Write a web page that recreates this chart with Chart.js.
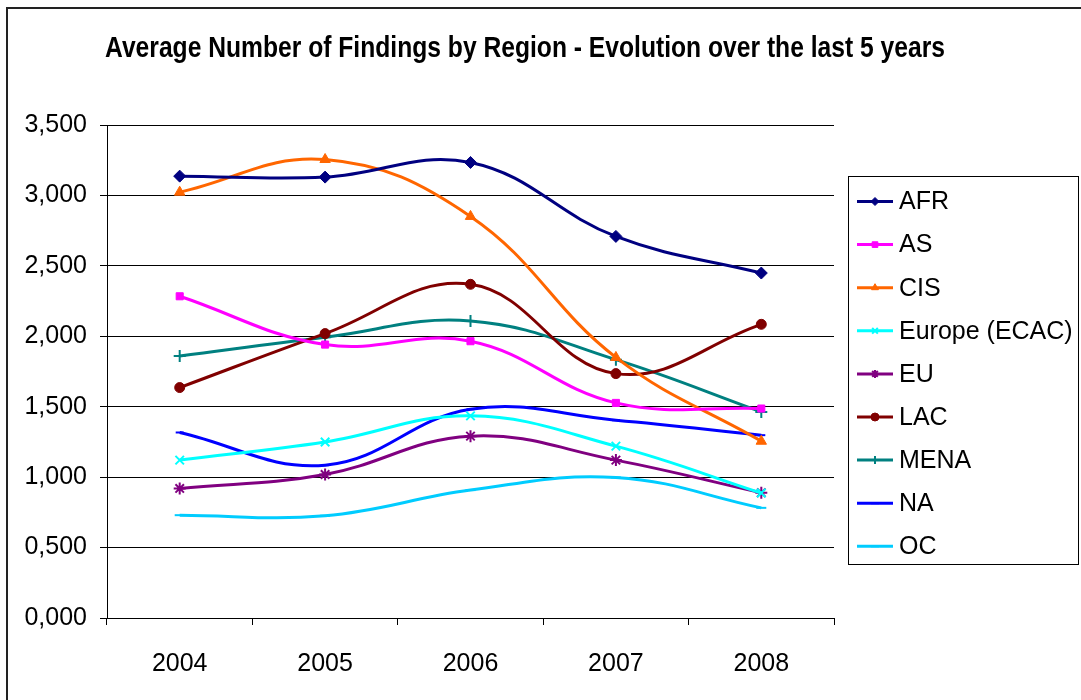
<!DOCTYPE html>
<html>
<head>
<meta charset="utf-8">
<script src="https://cdn.jsdelivr.net/npm/chart.js@4/dist/chart.umd.min.js"></script>
<style>
  html, body { margin: 0; padding: 0; background: #fff; }
  #wrap { width: 1081px; height: 700px; position: relative; }
</style>
</head>
<body>
<div id="wrap"><canvas id="findingsChart" width="1081" height="700"></canvas></div>
<script>
// values (axis shows 0,000 .. 3,500)
const years = ['2004', '2005', '2006', '2007', '2008'];

const afr    = [3.137, 3.130, 3.234, 2.709, 2.449];
const as     = [2.284, 1.941, 1.965, 1.527, 1.487];
const cis    = [3.023, 3.255, 2.851, 1.850, 1.255];
const europe = [1.121, 1.250, 1.435, 1.220, 0.887];
const eu     = [0.920, 1.019, 1.291, 1.121, 0.889];
const lac    = [1.636, 2.019, 2.369, 1.735, 2.085];
const mena   = [1.860, 1.993, 2.109, 1.834, 1.463];
const na     = [1.317, 1.085, 1.482, 1.404, 1.298];
const oc     = [0.730, 0.726, 0.908, 0.998, 0.782];

const yTicks = [0, 0.5, 1, 1.5, 2, 2.5, 3, 3.5];

const TITLE = 'Average Number of Findings by Region - Evolution over the last 5 years';
const FONT = 'Arial, "Liberation Sans", sans-serif';

function series(label, data, color, style, radius) {
  return {
    label: label,
    data: data,
    borderColor: color,
    backgroundColor: color,
    pointBackgroundColor: color,
    pointBorderColor: color,
    pointStyle: style,
    pointRadius: radius,
    pointBorderWidth: (style === 'cross' || style === 'crossRot' || style === 'star' || style === 'line') ? 2 : 1,
    borderWidth: 3,
    tension: 0.4,
    fill: false
  };
}

const datasets = [
  series('AFR', afr, '#000080', 'rectRot', 6),
  series('AS', as, '#FF00FF', 'rect', 5),
  series('CIS', cis, '#FF6600', 'triangle', 6),
  series('Europe (ECAC)', europe, '#00FFFF', 'crossRot', 6),
  series('EU', eu, '#800080', 'star', 6),
  series('LAC', lac, '#800000', 'circle', 5),
  series('MENA', mena, '#008080', 'cross', 6),
  series('NA', na, '#0000FF', 'line', 4),
  series('OC', oc, '#00CCFF', 'line', 5)
];

// outer frame, condensed title and boxed legend on the right
const framePlugin = {
  id: 'frame',
  afterDraw(chart) {
    const ctx = chart.ctx;
    ctx.save();
    ctx.strokeStyle = '#222';
    ctx.lineWidth = 2;
    ctx.beginPath();
    ctx.moveTo(7, 700);
    ctx.lineTo(7, 8);
    ctx.lineTo(1081, 8);
    ctx.stroke();

    // title: tall, narrow bold face like the original
    ctx.font = 'bold 30px ' + FONT;
    ctx.fillStyle = '#000';
    ctx.textAlign = 'center';
    ctx.textBaseline = 'alphabetic';
    const w = ctx.measureText(TITLE).width;
    ctx.save();
    ctx.translate(525, 56.5);
    ctx.scale(840 / w, 1);
    ctx.fillText(TITLE, 0, 0);
    ctx.restore();

    // legend box
    ctx.lineWidth = 1;
    ctx.strokeStyle = '#000';
    ctx.strokeRect(848.5, 176.5, 230, 388);

    const drawPoint = Chart.helpers && Chart.helpers.drawPoint;
    ctx.font = '25px ' + FONT;
    ctx.textBaseline = 'middle';
    ctx.textAlign = 'left';
    chart.data.datasets.forEach(function(ds, i) {
      const y = 201.5 + i * 43.1;
      ctx.strokeStyle = ds.borderColor;
      ctx.fillStyle = ds.borderColor;
      ctx.lineWidth = 3;
      ctx.beginPath();
      ctx.moveTo(857, y);
      ctx.lineTo(893, y);
      ctx.stroke();
      if (drawPoint) {
        ctx.lineWidth = ds.pointBorderWidth;
        drawPoint(ctx, { pointStyle: ds.pointStyle, rotation: 0, radius: 4, borderWidth: ds.pointBorderWidth }, 875, y);
      }
      ctx.fillStyle = '#000';
      ctx.fillText(ds.label, 899, y + 1);
    });
    ctx.restore();
  }
};

new Chart(document.getElementById('findingsChart').getContext('2d'), {
  type: 'line',
  data: { labels: years, datasets: datasets },
  options: {
    responsive: false,
    animation: false,
    layout: { padding: { left: 0, right: 247, top: 125, bottom: 0 } },
    plugins: {
      legend: { display: false },
      tooltip: { enabled: false },
      title: { display: false }
    },
    scales: {
      x: {
        offset: true,
        afterFit(scale) { scale.height = 82; },
        grid: {
          offset: true,
          drawOnChartArea: false,
          drawTicks: true,
          tickLength: 7,
          color: '#000'
        },
        border: { color: '#000', width: 1 },
        ticks: { color: '#000', padding: 24, font: { family: FONT, size: 25 } }
      },
      y: {
        min: 0,
        max: 3.5,
        afterFit(scale) { scale.width = 107; },
        afterBuildTicks(scale) { scale.ticks = yTicks.map(v => ({ value: v })); },
        grid: { color: '#000', tickLength: 7, lineWidth: 1 },
        border: { color: '#000', width: 1 },
        ticks: {
          color: '#000',
          padding: 13,
          font: { family: FONT, size: 25 },
          callback: v => Number(v).toFixed(3).replace('.', ',')
        }
      }
    }
  },
  plugins: [framePlugin]
});
</script>
</body>
</html>
